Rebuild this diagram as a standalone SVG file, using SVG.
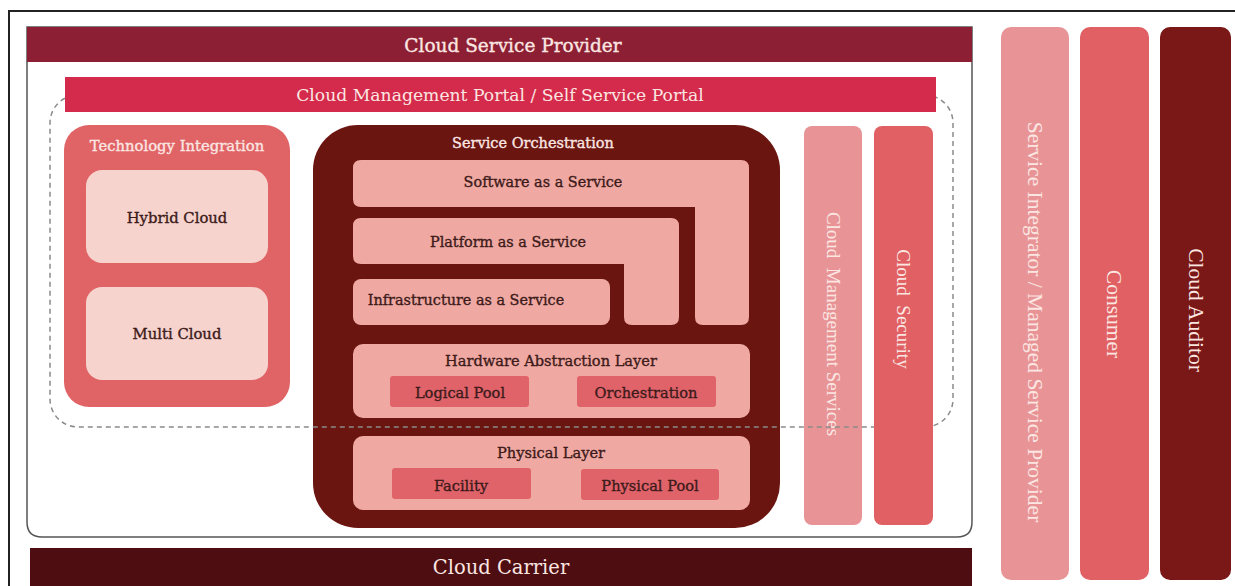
<svg xmlns="http://www.w3.org/2000/svg" width="1235" height="586" viewBox="0 0 1235 586">
<style>
.t{font-family:"DejaVu Serif","Liberation Serif",serif;text-anchor:middle;dominant-baseline:central}
.b{stroke-width:0.35;paint-order:stroke}
.v{font-family:"Liberation Serif","Times New Roman",serif;text-anchor:middle;dominant-baseline:central}
.lt{fill:#fbe6e2}
.lt.b{stroke:#fbe6e2}
.dk{fill:#3d1a1a}
.dk.b{stroke:#3d1a1a}
.pink{fill:#f0a9a2}
.sub{fill:#e0636a}
</style>
<rect width="1235" height="586" fill="#ffffff"/>
<g id="frame">
<path d="M9 586 V11 H1235" fill="none" stroke="#222" stroke-width="2"/>
</g>
<g id="cloud-service-provider">
<path d="M27 27 H972 V522 Q972 537 957 537 H42 Q27 537 27 522 Z" fill="#ffffff" stroke="#555" stroke-width="1.5"/>
<rect x="27" y="27" width="945" height="35" fill="#8c1f33"/>
<text class="t b lt" x="513" y="45" font-size="18.5">Cloud Service Provider</text>
</g>
<g id="technology-integration">
<rect x="64" y="125" width="226" height="282" rx="25" fill="#e06366"/>
<text class="t b lt" x="177" y="145" font-size="14.8">Technology Integration</text>
</g>
<g id="hybrid-cloud">
<rect x="86" y="170" width="182" height="93" rx="16" fill="#f6d3cd"/>
<text class="t b dk" x="177" y="217" font-size="14.8">Hybrid Cloud</text>
</g>
<g id="multi-cloud">
<rect x="86" y="287" width="182" height="93" rx="16" fill="#f6d3cd"/>
<text class="t b dk" x="177" y="333" font-size="14.8">Multi Cloud</text>
</g>
<g id="service-orchestration">
<rect x="313" y="125" width="467" height="403" rx="45" fill="#6b1510"/>
<text class="t b lt" x="533" y="143" font-size="14.5">Service Orchestration</text>
</g>
<g id="saas">
<path class="pink" d="M361 160 H741 Q749 160 749 168 V317 Q749 325 741 325 H703 Q695 325 695 317 V207 H361 Q353 207 353 199 V168 Q353 160 361 160 Z"/>
<text class="t b dk" x="543" y="182" font-size="14.4">Software as a Service</text>
</g>
<g id="paas">
<path class="pink" d="M361 218 H671 Q679 218 679 226 V317 Q679 325 671 325 H632 Q624 325 624 317 V264 H361 Q353 264 353 256 V226 Q353 218 361 218 Z"/>
<text class="t b dk" x="508" y="242" font-size="14.4">Platform as a Service</text>
</g>
<g id="iaas">
<rect class="pink" x="353" y="279" width="257" height="46" rx="8"/>
<text class="t b dk" x="466" y="300" font-size="14.4">Infrastructure as a Service</text>
</g>
<g id="hardware-abstraction-layer">
<rect class="pink" x="353" y="344" width="397" height="74" rx="10"/>
<text class="t b dk" x="551" y="360" font-size="14.6">Hardware Abstraction Layer</text>
</g>
<g id="logical-pool">
<rect class="sub" x="390" y="376" width="139" height="31" rx="3"/>
<text class="t b dk" x="460" y="392" font-size="14.6">Logical Pool</text>
</g>
<g id="orchestration">
<rect class="sub" x="577" y="376" width="139" height="31" rx="3"/>
<text class="t b dk" x="646" y="392" font-size="14.6">Orchestration</text>
</g>
<g id="physical-layer">
<rect class="pink" x="353" y="436" width="397" height="74" rx="10"/>
<text class="t b dk" x="551" y="452" font-size="14.6">Physical Layer</text>
</g>
<g id="facility">
<rect class="sub" x="392" y="468" width="139" height="31" rx="3"/>
<text class="t b dk" x="461" y="485" font-size="14.6">Facility</text>
</g>
<g id="physical-pool">
<rect class="sub" x="581" y="469" width="138" height="31" rx="3"/>
<text class="t b dk" x="650" y="485" font-size="14.6">Physical Pool</text>
</g>
<g id="cloud-management-services">
<rect x="804" y="126" width="58" height="399" rx="8" fill="#e89497"/>
<text class="v lt" transform="translate(833 324) rotate(90)" font-size="19" xml:space="preserve">Cloud  Management Services</text>
</g>
<g id="connectors">
<rect x="50" y="95" width="903" height="332" rx="28" fill="none" stroke="#8a8a8a" stroke-width="1.5" stroke-dasharray="5 4"/>
</g>
<g id="cloud-management-portal">
<rect x="65" y="77" width="871" height="35" fill="#d42a4b"/>
<text class="t lt" x="500" y="95" font-size="17.2">Cloud Management Portal / Self Service Portal</text>
</g>
<g id="cloud-security">
<rect x="874" y="126" width="59" height="399" rx="8" fill="#e06063"/>
<text class="v lt" transform="translate(903 309) rotate(90)" font-size="19" xml:space="preserve">Cloud  Security</text>
</g>
<g id="service-integrator">
<rect x="1001" y="27" width="68" height="553" rx="10" fill="#e89497"/>
<text class="v lt" transform="translate(1035 322) rotate(90)" font-size="21.5">Service Integrator / Managed Service Provider</text>
</g>
<g id="consumer">
<rect x="1080" y="27" width="69" height="553" rx="10" fill="#e06063"/>
<text class="v lt" transform="translate(1114 314) rotate(90)" font-size="21.5">Consumer</text>
</g>
<g id="cloud-auditor">
<rect x="1160" y="27" width="71" height="553" rx="10" fill="#7a1717"/>
<text class="v lt" transform="translate(1196 310) rotate(90)" font-size="21.5">Cloud Auditor</text>
</g>
<g id="cloud-carrier">
<rect x="30" y="548" width="942" height="38" fill="#4e0d10"/>
<text class="t lt" x="501" y="567" font-size="19.5">Cloud Carrier</text>
</g>
</svg>
